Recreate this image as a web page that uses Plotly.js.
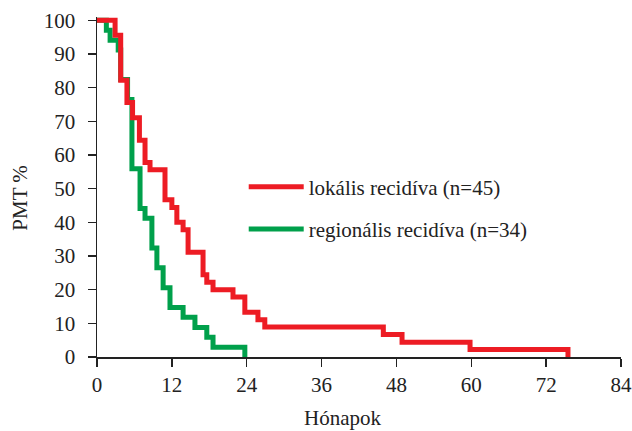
<!DOCTYPE html>
<html>
<head>
<meta charset="utf-8">
<script src="https://cdn.plot.ly/plotly-3.0.1.min.js"></script>
<style>html,body{margin:0;padding:0;background:#fff;}#chart{width:632px;height:431px;}</style>
</head>
<body>
<div id="chart"></div>
<script>
// Kaplan-Meier style step data (months, percent)
const redName = 'lokális recidíva (n=45)';
const redTimes = [0, 2.9, 3.8, 4.8, 5.7, 6.8, 7.7, 8.5, 10.9, 12.0, 12.8, 13.8, 14.6, 17.0, 17.6, 18.6, 21.8, 23.7, 25.8, 26.9, 45.9, 48.9, 59.8, 75.5];
const redSurv  = [100, 95.6, 82.2, 75.6, 71.1, 64.4, 57.8, 55.6, 46.7, 44.4, 40.0, 37.8, 31.1, 24.4, 22.2, 20.0, 17.8, 13.3, 11.1, 8.9, 6.7, 4.4, 2.2, 0];

const greenName = 'regionális recidíva (n=34)';
const greenTimes = [0, 1.5, 2.1, 3.4, 3.8, 4.9, 5.6, 6.9, 7.7, 8.8, 9.6, 10.6, 11.7, 13.8, 15.7, 17.6, 18.6, 23.7];
const greenSurv  = [100, 97.1, 94.1, 91.2, 82.4, 76.5, 55.9, 44.1, 41.2, 32.4, 26.5, 20.6, 14.7, 11.8, 8.8, 5.9, 2.9, 0];

const xTicks = [0, 12, 24, 36, 48, 60, 72, 84];
const yTicks = [0, 10, 20, 30, 40, 50, 60, 70, 80, 90, 100];
const xTitle = 'Hónapok';
const yTitle = 'PMT %';

const FONT = 'Liberation Serif, Times New Roman, serif';
const TXT = '#222';

const traces = [
  {x: greenTimes, y: greenSurv, name: greenName, type: 'scatter', mode: 'lines',
   line: {shape: 'hv', color: '#00a04b', width: 5}, legendgroup: 'g', legendrank: 2},
  {x: redTimes, y: redSurv, name: redName, type: 'scatter', mode: 'lines',
   line: {shape: 'hv', color: '#ed1c24', width: 5}, legendgroup: 'r', legendrank: 1}
];

const layout = {
  width: 632, height: 431,
  margin: {l: 97, r: 11, t: 17, b: 74},
  paper_bgcolor: '#fff', plot_bgcolor: '#fff',
  font: {family: FONT, size: 21, color: TXT},
  showlegend: true,
  legend: {x: 0.28, y: 0.56, xanchor: 'left', yanchor: 'top',
           traceorder: 'grouped', tracegroupgap: 12, itemwidth: 55,
           bgcolor: 'rgba(0,0,0,0)', font: {family: FONT, size: 21, color: TXT}},
  xaxis: {range: [0, 84], tickvals: xTicks, ticktext: xTicks.map(String),
          showgrid: false, zeroline: false, showline: true, linecolor: TXT, linewidth: 1.5,
          ticks: 'outside', ticklen: 8, tickwidth: 1.5, tickcolor: TXT,
          tickfont: {family: FONT, size: 21, color: TXT}},
  yaxis: {range: [0, 101], tickvals: yTicks, ticktext: yTicks.map(String),
          showgrid: false, zeroline: false, showline: true, linecolor: TXT, linewidth: 1.5,
          ticks: 'outside', ticklen: 8, tickwidth: 1.5, tickcolor: TXT, ticklabelstandoff: 8,
          tickfont: {family: FONT, size: 21, color: TXT}},
  annotations: [
    {text: xTitle, xref: 'paper', yref: 'paper', x: 0.469, y: -0.18,
     xanchor: 'center', yanchor: 'middle', showarrow: false,
     font: {family: FONT, size: 21, color: TXT}},
    {text: yTitle, xref: 'paper', yref: 'paper', x: -0.146, y: 0.47, textangle: -90,
     xanchor: 'center', yanchor: 'middle', showarrow: false,
     font: {family: FONT, size: 21, color: TXT}}
  ]
};

Plotly.newPlot('chart', traces, layout, {displayModeBar: false, staticPlot: true});
</script>
</body>
</html>
